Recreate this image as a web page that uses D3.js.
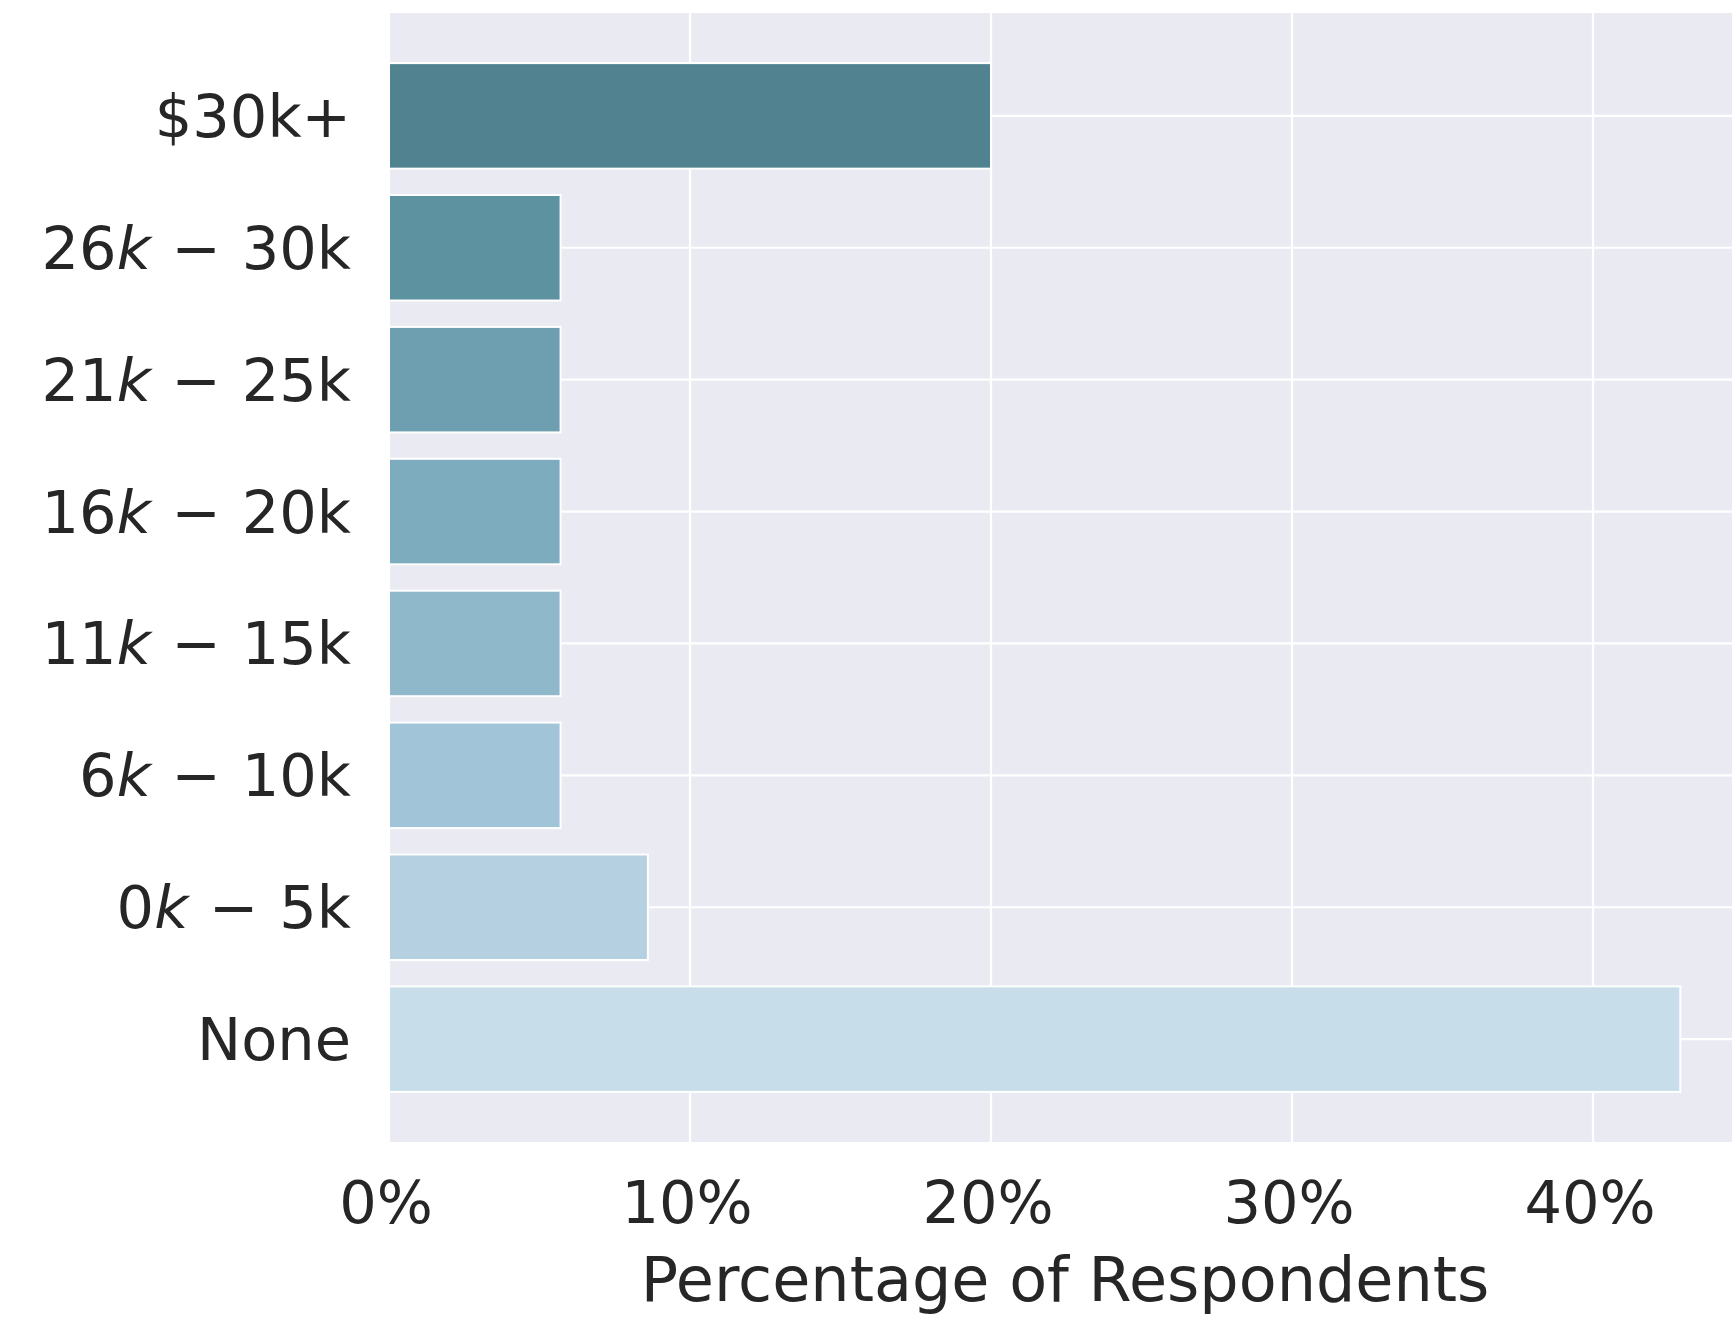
<!DOCTYPE html>
<html>
<head>
<meta charset="utf-8">
<script src="https://cdn.jsdelivr.net/npm/d3@7"></script>
<style>
  html, body { margin: 0; padding: 0; background: #ffffff; }
  svg { display: block; }
  text { font-family: "DejaVu Sans", sans-serif; fill: #262626; }
</style>
</head>
<body>
<svg id="chart" width="1732" height="1317"></svg>
<script>
// Categories from bottom (index 0) to top
const categories = ["None", "0k-5k", "6k-10k", "11k-15k", "16k-20k", "21k-25k", "26k-30k", "$30k+"];
const values = [0.429, 0.086, 0.057, 0.057, 0.057, 0.057, 0.057, 0.200];
const colors = ["#c7ddea", "#b4d0e1", "#a2c4d8", "#90b8cb", "#7eacbf", "#6e9fb1", "#5d92a1", "#50828f"];
const xTicks = [0, 0.1, 0.2, 0.3, 0.4];
const xLabel = "Percentage of Respondents";

const plot = { left: 389, top: 13, bottom: 1142 };
const xMax = 0.4505;
const x = d3.scaleLinear().domain([0, xMax]).range([plot.left, plot.left + 3010 * xMax]);
const y = d3.scaleLinear().domain([-0.78, categories.length - 1 + 0.78]).range([plot.bottom, plot.top]);
const barH = 0.8;

const svg = d3.select("#chart");

// background
svg.append("rect")
  .attr("x", x(0)).attr("y", plot.top)
  .attr("width", x(xMax) - x(0)).attr("height", plot.bottom - plot.top)
  .attr("fill", "#eaeaf2");

// grid
const grid = svg.append("g");
grid.selectAll("line.v").data(xTicks).join("line")
  .attr("x1", d => x(d)).attr("x2", d => x(d))
  .attr("y1", plot.top).attr("y2", plot.bottom)
  .attr("stroke", "#ffffff").attr("stroke-width", 2.2);
grid.selectAll("line.h").data(categories.map((c, i) => i)).join("line")
  .attr("x1", x(0)).attr("x2", x(xMax))
  .attr("y1", d => y(d)).attr("y2", d => y(d))
  .attr("stroke", "#ffffff").attr("stroke-width", 2.2);

// bars
svg.append("g").selectAll("rect").data(values).join("rect")
  .attr("x", x(0))
  .attr("y", (d, i) => y(i + barH / 2))
  .attr("width", d => x(d) - x(0))
  .attr("height", (d, i) => y(i - barH / 2) - y(i + barH / 2))
  .attr("fill", (d, i) => colors[i])
  .attr("stroke", "#ffffff").attr("stroke-width", 2);

// y tick labels (mathtext-like rendering)
const yLab = svg.append("g");
categories.forEach((c, i) => {
  const t = yLab.append("text")
    .attr("x", plot.left - 38)
    .attr("y", y(i) + 21)
    .attr("text-anchor", "end")
    .attr("font-size", 59);
  if (c.includes("-")) {
    const [a, b] = c.split("-");
    t.append("tspan").text(a.replace("k", ""));
    t.append("tspan").attr("font-style", "italic").text("k");
    t.append("tspan").attr("dx", 2).text(" \u2212");
    t.append("tspan").attr("dx", 2).text(" " + b);
  } else {
    t.text(c);
  }
});

// x tick labels
svg.append("g").selectAll("text").data(xTicks).join("text")
  .attr("x", d => x(d) - 3)
  .attr("y", 1223)
  .attr("text-anchor", "middle")
  .attr("font-size", 59)
  .text(d => d3.format(".0%")(d));

// x label
svg.append("text")
  .attr("x", (x(0) + x(xMax)) / 2 - 2)
  .attr("y", 1301)
  .attr("text-anchor", "middle")
  .attr("font-size", 62)
  .text(xLabel);
</script>
</body>
</html>
